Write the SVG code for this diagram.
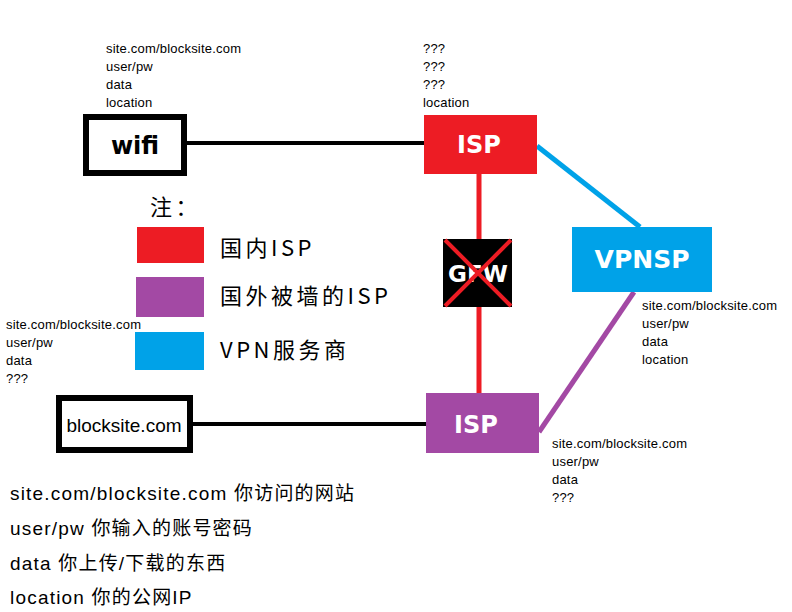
<svg xmlns="http://www.w3.org/2000/svg" width="792" height="612" viewBox="0 0 792 612">
<style>
.small{font-family:"Liberation Sans","Noto Sans CJK SC",sans-serif;font-size:13px;letter-spacing:0.2px;fill:#000}
.box{fill:#fff;stroke:#000;stroke-width:6}
.lbl{font-family:"DejaVu Sans","Liberation Sans",sans-serif;font-weight:bold;fill:#fff;text-anchor:middle}
.leg{font-family:"Noto Sans CJK SC","Liberation Sans",sans-serif;font-size:22px;fill:#000;letter-spacing:3.5px}
.note{font-family:"Liberation Sans","Noto Sans CJK SC",sans-serif;font-size:19px;letter-spacing:1.2px;fill:#000}
</style>
<rect width="792" height="612" fill="#fff"/>
<g id="connectors" fill="none">
<line x1="187" y1="143" x2="424" y2="143" stroke="#000" stroke-width="4"/>
<line x1="192" y1="424" x2="426" y2="424" stroke="#000" stroke-width="4"/>
<line x1="479" y1="174" x2="479" y2="393" stroke="#ed1c24" stroke-width="5"/>
<line x1="537" y1="146" x2="640" y2="227" stroke="#00a2e8" stroke-width="5"/>
<line x1="634" y1="292" x2="539" y2="432" stroke="#a349a4" stroke-width="5"/>
</g>
<g id="wifi">
<rect class="box" x="86" y="117" width="98" height="56"/>
<text x="135" y="154" font-family="DejaVu Sans,sans-serif" font-weight="bold" font-size="24" text-anchor="middle">wifi</text>
</g>
<g id="isp-red">
<rect x="424" y="115" width="113" height="59" fill="#ed1c24"/>
<text class="lbl" x="479" y="153" font-size="24">ISP</text>
</g>
<g id="vpnsp">
<rect x="572" y="227" width="140" height="65" fill="#00a2e8"/>
<text class="lbl" x="642" y="268" font-size="25">VPNSP</text>
</g>
<g id="gfw">
<rect x="443" y="239" width="69" height="68" fill="#000"/>
<text class="lbl" x="478" y="282" font-size="23">GFW</text>
<line x1="445" y1="240" x2="511" y2="306" stroke="#ed1c24" stroke-width="4"/>
<line x1="511" y1="240" x2="445" y2="306" stroke="#ed1c24" stroke-width="4"/>
</g>
<g id="isp-purple">
<rect x="426" y="393" width="113" height="60" fill="#a349a4"/>
<text class="lbl" x="476" y="433" font-size="24">ISP</text>
</g>
<g id="blocksite">
<rect class="box" x="59" y="398" width="131" height="52"/>
<text x="124" y="432" font-family="Liberation Sans,sans-serif" font-size="19" text-anchor="middle">blocksite.com</text>
</g>
<g id="text-wifi">
<text class="small" x="106" y="53">site.com/blocksite.com</text>
<text class="small" x="106" y="71">user/pw</text>
<text class="small" x="106" y="89">data</text>
<text class="small" x="106" y="107">location</text>
</g>
<g id="text-isp">
<text class="small" x="423" y="53">???</text>
<text class="small" x="423" y="71">???</text>
<text class="small" x="423" y="89">???</text>
<text class="small" x="423" y="107">location</text>
</g>
<g id="text-vpn">
<text class="small" x="642" y="310">site.com/blocksite.com</text>
<text class="small" x="642" y="328">user/pw</text>
<text class="small" x="642" y="346">data</text>
<text class="small" x="642" y="364">location</text>
</g>
<g id="text-block">
<text class="small" x="6" y="329">site.com/blocksite.com</text>
<text class="small" x="6" y="347">user/pw</text>
<text class="small" x="6" y="365">data</text>
<text class="small" x="6" y="383">???</text>
</g>
<g id="text-isp2">
<text class="small" x="552" y="448">site.com/blocksite.com</text>
<text class="small" x="552" y="466">user/pw</text>
<text class="small" x="552" y="484">data</text>
<text class="small" x="552" y="502">???</text>
</g>
<g id="legend">
<text class="leg" x="150" y="215">注：</text>
<rect x="137" y="227" width="67" height="36" fill="#ed1c24"/>
<rect x="136" y="277" width="68" height="40" fill="#a349a4"/>
<rect x="135" y="332" width="69" height="38" fill="#00a2e8"/>
<text class="leg" x="220" y="256">国内ISP</text>
<text class="leg" x="220" y="304">国外被墙的ISP</text>
<text class="leg" x="220" y="358">VPN服务商</text>
</g>
<g id="notes">
<text class="note" x="10" y="500">site.com/blocksite.com 你访问的网站</text>
<text class="note" x="10" y="535">user/pw 你输入的账号密码</text>
<text class="note" x="10" y="570">data 你上传/下载的东西</text>
<text class="note" x="10" y="604">location 你的公网IP</text>
</g>
</svg>
